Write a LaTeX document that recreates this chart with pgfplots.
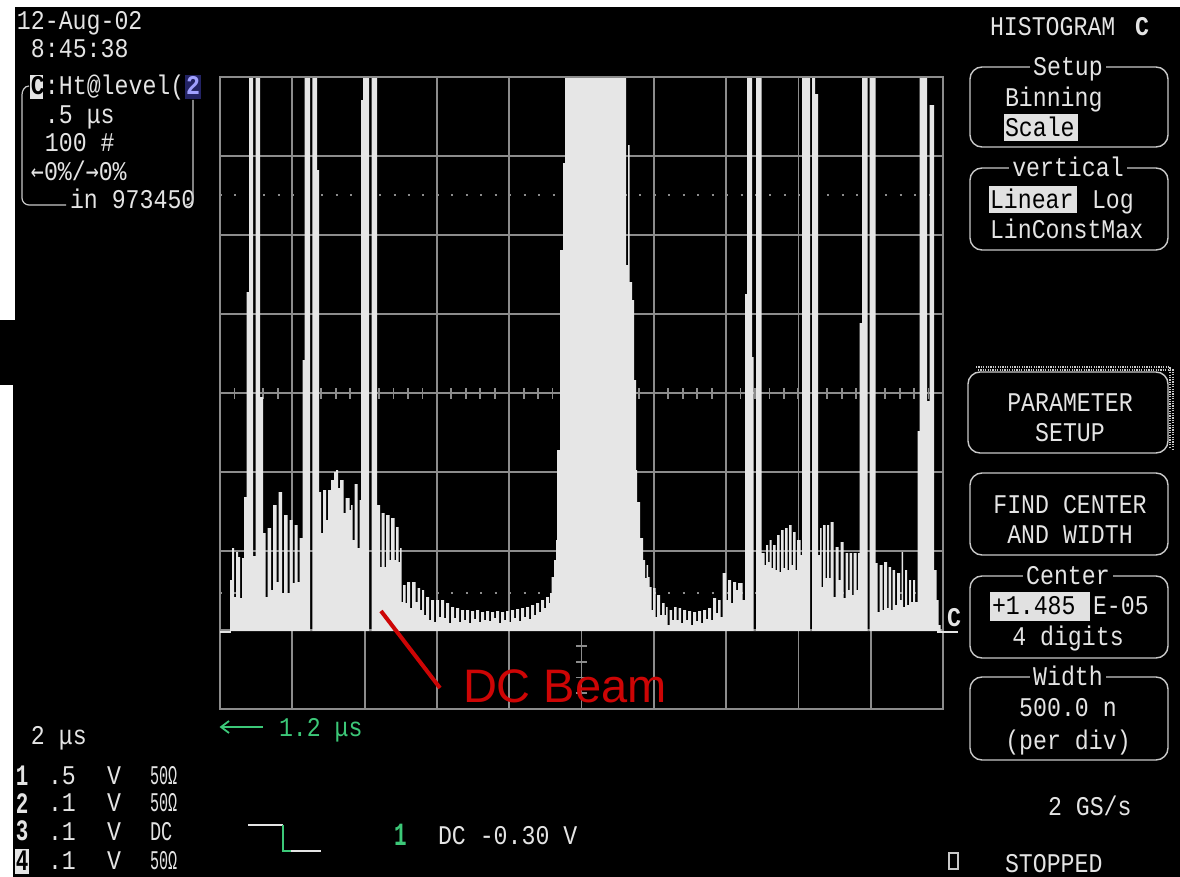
\documentclass[border=0pt]{standalone}
\usepackage{fontspec}
\usepackage{graphicx}
\usepackage{pgfplots}
\pgfplotsset{compat=1.18}
\setmainfont[FakeStretch=0.86]{Liberation Mono}
\newfontfamily\arialfont{Liberation Sans}
\newfontfamily\arrowfont[FakeStretch=0.8]{DejaVu Sans Mono}
\definecolor{scrtxt}{RGB}{228,228,228}
\definecolor{gridgray}{RGB}{140,140,140}
\definecolor{boxgray}{RGB}{200,200,200}
\definecolor{histgray}{RGB}{230,230,230}
\definecolor{scopegreen}{RGB}{60,200,120}
\definecolor{beamred}{RGB}{205,5,5}
\definecolor{hilite}{RGB}{225,225,225}
\definecolor{chblue}{RGB}{160,160,255}
\definecolor{chbluebg}{RGB}{35,35,100}
\pgfplotsset{scopeaxis/.style={at={(P)}, anchor=south west, scale only axis, width=361.5pt, height=316pt}}
\begin{document}
\begin{tikzpicture}[x=0.5pt,y=-0.5pt, every node/.style={inner sep=0pt, outer sep=0pt, text=scrtxt, font=\fontsize{13.5}{14}\selectfont}]
\fill[white] (0,0) rectangle (1180,877);
\fill[black] (15,7) rectangle (1180,877);
\fill[black] (13,385) rectangle (15,877);
\fill[black] (0,320) rectangle (15,385);
\coordinate (P) at (220,709);
% grid
\begin{axis}[scopeaxis, xmin=220, xmax=943, ymin=77, ymax=709, y dir=reverse,
 xtick={220,292.3,364.6,436.9,509.2,581.5,653.8,726.1,798.4,870.7,943},
 ytick={77,156,235,314,393,472,551,630,709},
 xticklabels={}, yticklabels={}, major tick length=0pt,
 grid=major, major grid style={gridgray, line width=0.9pt},
 axis line style={gridgray, line width=0.9pt},
 extra y ticks={195,593}, extra y tick labels={},
 extra y tick style={major grid style={gridgray, line width=1pt, dash pattern=on 1pt off 6.23pt}}]
\end{axis}
% graticule ticks
\begin{axis}[scopeaxis, xmin=-5, xmax=5, ymin=-4, ymax=4, axis lines=middle,
 axis line style={-, gridgray, line width=0.9pt},
 xtick={-5,-4.8,...,5}, ytick={-4,-3.8,...,4}, xticklabels={}, yticklabels={},
 tick align=center, major tick length=5.5pt, tick style={gridgray, line width=0.9pt}]
\end{axis}
% histogram
\begin{axis}[scopeaxis, xmin=220, xmax=943, ymin=77, ymax=709, y dir=reverse,
 xtick=\empty, ytick=\empty, axis on top, axis line style={gridgray, line width=0.9pt}]
\addplot[const plot, fill=histgray, draw=none] coordinates {
(230,631)
(230,580) (232,548) (234,597) (236,552) (238,557) (240,598) (242,558) (244,497) (246.5,292) (249,77) (253,556) (255.5,77) (260,397)
(263,533) (265.5,597) (267.5,528) (271,590) (273,505) (276.5,582) (278.5,492) (282,593) (284,515) (287.5,593) (289.5,520) (292.5,583) (294.5,525) (297.5,582) (299.5,538)
(302.5,360) (304.5,77) (310,631) (312.3,77) (317,170)
(319,492) (321,533) (323,490) (326,520) (328,490) (331,480) (334,472) (336,470) (338,488) (340,480) (343.5,513) (345.5,498) (349.5,510) (351,505) (352.5,540) (354.5,484) (357.5,548) (359.5,500)
(361,100) (363,77) (369,631) (371.5,77)
(377,505) (380,567) (381.5,513) (384.5,567) (386,515) (389.5,560) (391,518) (394.5,560) (396,527) (398.5,562) (400,548)
(401.5,602) (403,585) (405.5,603) (407,582) (410,608) (412,582) (415.5,602) (417.5,588) (420,610) (422,590) (424,615) (426,597) (429,620) (431,600) (434,622) (436,600) (439,617) (441,600) (444,618) (446,603) (449,623) (451,607) (454,618) (456,608) (459,622) (461,610)
(464,620) (466,610) (469,623) (471,611) (474,619) (476,610) (479,622) (481,612) (484,620) (486,611) (489,621) (491,612) (494,618) (496,611) (499,623) (501,612) (504,620) (506,611) (509,622) (511,610) (514,618) (516,609) (519,621) (521,608) (524,617) (526,607) (529,619) (531,605) (534,615) (536,603) (539,612) (541,600) (544,608) (546,597) (549,603) (550,593) (551.5,577) (554,560) (556,540) (557,450) (560,250) (563,163) (565,77)
(626,265) (628,145) (629.5,282) (632,300) (634,380) (636,470) (637,502) (640,538) (643,560)
(645,578) (646.5,565) (648,577) (649.5,587) (651.5,610) (653,588) (655.5,617) (657,595) (660,615) (662,603) (664.5,615) (666,607) (667.5,625) (669.5,610) (672,620) (674,607) (676.5,620) (678.5,608)
(681,623) (683,610) (686,620) (688,611) (691,625) (693,612) (696,621) (698,611) (701,623) (703,610) (706,619) (708,608) (711,620) (713,598) (716,613) (718,600) (720.5,617) (722.5,573) (726,600) (728,580) (731,603) (733,582) (736,590) (738,583) (740,583) (742.5,600)
(745,294) (747,77) (752,357) (753.5,631) (756,77)
(761.5,553) (764.5,565) (766,545) (768,562) (769.5,540) (771.5,568) (773,545) (775.5,570) (777,535) (779.5,572) (781,530) (783.5,568) (785,528) (787.5,570) (789,525) (791.5,565) (793,532) (795.5,570) (797,540) (800.5,555)
(802,77) (810,631) (812,77) (815,94) (818,555)
(820,528) (821.5,587) (823,525) (825.5,578) (827,525) (829,578) (830.5,522) (833.5,597) (835.5,547) (838.5,580) (840.5,542) (843.5,598) (845.5,553) (848,590) (849.5,553) (852,595) (853.5,553) (856.5,590) (858,553)
(859.5,323) (862,77) (867.5,631) (869.5,77)
(875.5,563) (877.5,612) (879.5,565) (882.5,610) (884,562) (887,608) (888.5,567) (891,610) (892.5,570) (895,605) (897,573) (900,600) (901.5,552) (903,607) (905,570) (907,605) (909,580) (911,602) (913,580) (915,602)
(917.5,431) (919.5,77) (927,401) (929.5,105) (934,570) (936.5,600) (938.5,625) (940.5,631)
};
\end{axis}
% baseline stubs and C marker
\draw[scrtxt, line width=0.8pt] (220,632) -- (231,632);
\draw[scrtxt, line width=0.8pt] (937,632) -- (958,632);
\node[anchor=base west] at (947,627) {\bfseries C};
% annotation
\draw[beamred, line width=2pt] (381,611) -- (440,688);
\node[anchor=base west, text=beamred, font=\arialfont\fontsize{23.5}{24}\selectfont] at (463,703) {DC Beam};
% top-left block
\node[anchor=base west] at (17,30) {12-Aug-02};
\node[anchor=base west] at (31,58) {8:45:38};
\fill[scrtxt] (30,75) rectangle (43,99);
\node[anchor=base west, text=black] at (31,95) {\bfseries C};
\node[anchor=base west] at (45,95) {:Ht@level(};
\fill[chbluebg] (185,75) rectangle (201,99);
\node[anchor=base west, text=chblue] at (186,95) {\bfseries 2};
\node[anchor=base west] at (45,124) {.5 μs};
\node[anchor=base west] at (45,152) {100 \#};
\node[anchor=base west] at (31,181) {{\arrowfont ←}0\%/{\arrowfont →}0\%};
\node[anchor=base west] at (70,209) {in 973450};
\draw[boxgray, line width=0.6pt] (29,86) to[out=180,in=90] (22,95) -- (22,198) to[out=270,in=180] (29,205) -- (66,205);
\draw[boxgray, line width=0.6pt] (193,100) -- (193,198) to[out=270,in=0] (186,205);
% right panel
\node[anchor=base west] at (990,36) {HISTOGRAM};
\node[anchor=base west] at (1135,36) {\bfseries C};
\draw[boxgray, line width=0.7pt, rounded corners=6] (970,67) rectangle (1168,147);
\node[anchor=base, fill=black, inner xsep=1.5pt, inner ysep=1pt] at (1068,76) {Setup};
\node[anchor=base west] at (1005,107) {Binning};
\fill[hilite] (1004,114) rectangle (1078,141);
\node[anchor=base west, text=black] at (1005,137) {Scale};
\draw[boxgray, line width=0.7pt, rounded corners=6] (970,168) rectangle (1168,250);
\node[anchor=base, fill=black, inner xsep=1.5pt, inner ysep=1pt] at (1068,177) {vertical};
\fill[hilite] (989,186) rectangle (1077,213);
\node[anchor=base west, text=black] at (990,209) {Linear};
\node[anchor=base west] at (1092,209) {Log};
\node[anchor=base west] at (990,239) {LinConstMax};
\draw[boxgray, line width=0.7pt, rounded corners=6] (968,372) rectangle (1168,453);
\draw[boxgray, line width=0.6pt, dash pattern=on 0.6pt off 0.6pt] (976,367) -- (1170,367) -- (1170,447);
\draw[boxgray, line width=0.6pt, dash pattern=on 0.6pt off 0.6pt] (978,370) -- (1173,370) -- (1173,449);
\node[anchor=base] at (1070,412) {PARAMETER};
\node[anchor=base] at (1070,442) {SETUP};
\draw[boxgray, line width=0.7pt, rounded corners=6] (970,473) rectangle (1168,555);
\node[anchor=base] at (1070,514) {FIND CENTER};
\node[anchor=base] at (1070,544) {AND WIDTH};
\draw[boxgray, line width=0.7pt, rounded corners=6] (970,576) rectangle (1168,658);
\node[anchor=base, fill=black, inner xsep=1.5pt, inner ysep=1pt] at (1068,585) {Center};
\fill[hilite] (990,592) rectangle (1090,621);
\node[anchor=base west, text=black] at (992,615) {+1.485};
\node[anchor=base west] at (1093,615) {E-05};
\node[anchor=base] at (1068,646) {4 digits};
\draw[boxgray, line width=0.7pt, rounded corners=6] (970,677) rectangle (1168,760);
\node[anchor=base, fill=black, inner xsep=1.5pt, inner ysep=1pt] at (1068,686) {Width};
\node[anchor=base] at (1068,717) {500.0 n};
\node[anchor=base] at (1068,749) {(per div)};
\node[anchor=base west] at (1048,815) {2 GS/s};
\draw[boxgray, line width=0.6pt] (949,853) rectangle (958,869);
\node[anchor=base west] at (1005,872) {STOPPED};
% bottom-left block
\node[anchor=base west] at (31,744) {2 μs};
\node[anchor=base west] at (16,785) {\bfseries\scalebox{0.9}[1.1]{1}};
\node[anchor=base west] at (16,813) {\bfseries\scalebox{0.9}[1.1]{2}};
\node[anchor=base west] at (16,841) {\bfseries\scalebox{0.9}[1.1]{3}};
\fill[scrtxt] (15,849) rectangle (29,874);
\node[anchor=base west, text=black] at (16,870) {\bfseries\scalebox{0.9}[1.1]{4}};
\node[anchor=base west] at (48,784) {.5};
\node[anchor=base west] at (48,812) {.1};
\node[anchor=base west] at (48,840) {.1};
\node[anchor=base west] at (48,869) {.1};
\node[anchor=base west] at (107,784) {V};
\node[anchor=base west] at (107,812) {V};
\node[anchor=base west] at (107,840) {V};
\node[anchor=base west] at (107,869) {V};
\node[anchor=base west] at (150,784) {\scalebox{0.65}[1]{50Ω}};
\node[anchor=base west] at (150,812) {\scalebox{0.65}[1]{50Ω}};
\node[anchor=base west] at (150,840) {\scalebox{0.8}[1]{DC}};
\node[anchor=base west] at (150,869) {\scalebox{0.65}[1]{50Ω}};
% timebase delay
\draw[scopegreen, line width=0.9pt] (263,727) -- (221,727);
\draw[scopegreen, line width=0.9pt] (229,721) -- (221,727) -- (229,733);
\node[anchor=base west, text=scopegreen] at (279,736) {1.2 μs};
% trigger
\draw[scrtxt, line width=1pt] (248,825) -- (283,825);
\draw[scopegreen, line width=1.3pt] (283,825) -- (283,851) -- (291,851);
\draw[scrtxt, line width=1pt] (291,851) -- (321,851);
\node[anchor=base west, text=scopegreen] at (394,845) {\bfseries\scalebox{0.9}[1.2]{1}};
\node[anchor=base west] at (438,844) {DC -0.30 V};
\end{tikzpicture}
\end{document}
